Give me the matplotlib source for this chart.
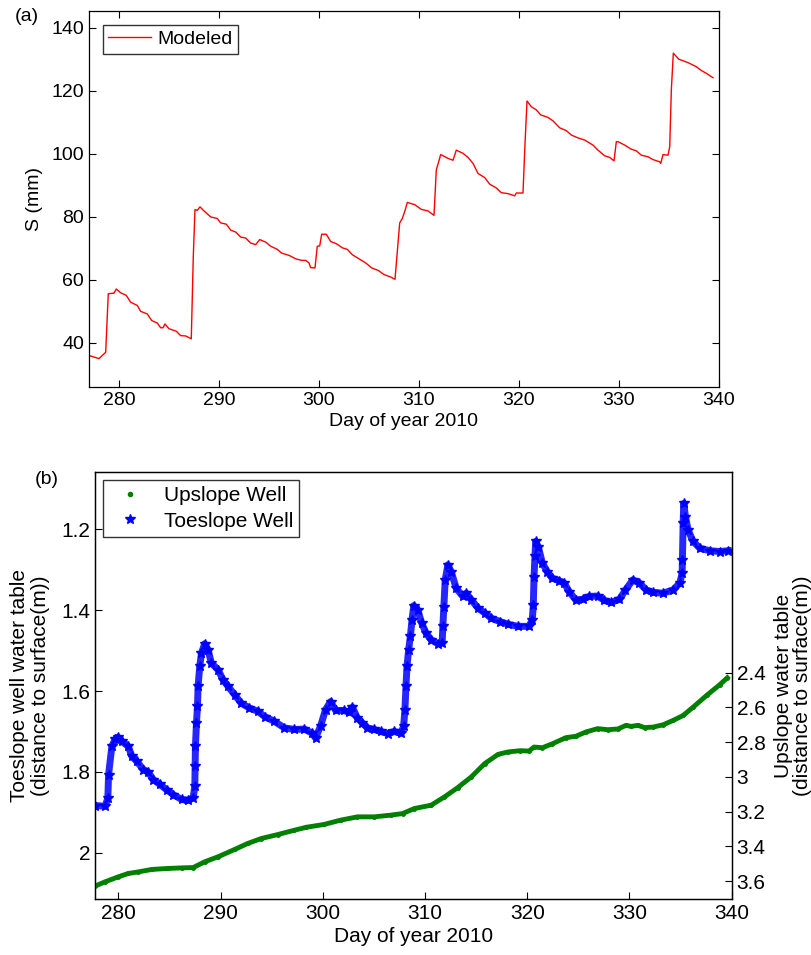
import numpy as np
import matplotlib
matplotlib.use('Agg')
import matplotlib.pyplot as plt
from matplotlib.lines import Line2D

plt.rcParams['font.family'] = ['Liberation Sans', 'DejaVu Sans']

# (a) modeled storage S (mm)
day_s = [277.0, 278.0, 278.67, 278.93, 279.5, 279.73, 280.17, 280.73, 281.17, 281.83,
         282.17, 282.83, 283.27, 283.83, 284.17, 284.4, 284.6, 285.0, 285.73, 286.17,
         286.67, 287.23, 287.43, 287.6, 287.83, 288.1, 288.5, 289.17, 289.83, 290.17,
         290.73, 291.17, 291.67, 292.17, 292.67, 293.17, 293.67, 294.07, 294.67, 295.17,
         295.83, 296.27, 297.0, 297.67, 298.27, 298.67, 299.0, 299.17, 299.6, 299.83,
         300.07, 300.27, 300.73, 301.17, 301.73, 302.33, 302.83, 303.33, 304.0, 304.67,
         305.27, 305.93, 306.5, 307.17, 307.6, 308.07, 308.33, 308.6, 308.83, 309.57,
         310.23, 310.9, 311.5, 311.73, 312.17, 312.9, 313.4, 313.73, 314.4, 314.9,
         315.4, 315.9, 316.57, 317.07, 317.73, 318.23, 318.9, 319.57, 319.73, 320.4,
         320.57, 320.8, 321.23, 321.73, 322.17, 322.9, 323.4, 324.07, 324.73, 325.23,
         325.9, 326.57, 327.4, 327.9, 328.57, 329.07, 329.5, 329.73, 329.9, 330.57,
         331.23, 331.73, 332.23, 332.9, 333.4, 334.07, 334.17, 334.4, 334.9, 335.07,
         335.23, 335.43, 335.97, 336.9, 337.73, 338.23, 338.73, 339.4]
s_mod = [36.0, 35.0, 37.0, 55.6, 55.8, 57.1, 55.9, 55.1, 52.9, 51.9,
         50.0, 49.2, 47.1, 46.3, 44.8, 44.8, 46.0, 44.5, 43.7, 42.3,
         42.2, 41.3, 67.3, 82.3, 82.1, 83.2, 81.9, 80.0, 79.5, 78.1,
         77.7, 75.8, 75.2, 73.6, 73.3, 71.7, 71.2, 72.8, 72.0, 70.7,
         69.7, 68.5, 67.8, 66.7, 66.2, 66.2, 65.4, 63.9, 63.8, 70.7,
         70.8, 74.5, 74.5, 72.2, 71.5, 70.2, 69.7, 68.0, 66.7, 65.4,
         63.8, 63.0, 61.7, 60.9, 60.2, 78.1, 79.5, 82.0, 84.6, 83.9,
         82.4, 81.9, 80.5, 94.9, 99.8, 98.6, 98.0, 101.2, 100.2, 98.9,
         97.0, 93.8, 92.5, 90.4, 89.2, 87.7, 87.4, 86.7, 87.6, 87.6,
         101.2, 116.8, 115.0, 114.0, 112.4, 111.6, 110.5, 108.3, 107.4, 106.0,
         105.1, 104.4, 102.8, 101.2, 99.4, 98.9, 97.8, 103.9, 103.9, 102.8,
         101.5, 101.0, 99.6, 99.1, 98.2, 97.5, 97.0, 99.8, 99.6, 102.3,
         120.3, 132.0, 130.1, 129.0, 127.7, 126.5, 125.6, 124.2]

# (b) toeslope well, distance to surface (m)
day_toe = [277.73, 278.7, 278.96, 279.03, 279.35, 279.68, 279.94, 280.32, 280.97, 281.3,
           281.79, 282.44, 282.92, 283.41, 284.06, 284.71, 285.36, 286.17, 286.82, 287.31,
           287.47, 287.5, 287.53, 287.63, 287.73, 287.79, 287.95, 288.12, 288.44, 288.77,
           289.09, 289.74, 290.23, 290.71, 291.36, 292.01, 292.82, 293.64, 294.29, 295.26,
           296.23, 297.21, 298.18, 298.95, 299.28, 299.77, 300.26, 300.75, 301.25, 302.07,
           302.56, 302.89, 303.38, 303.87, 304.36, 305.02, 305.67, 306.33, 306.98, 307.64,
           307.9, 308.03, 308.13, 308.23, 308.39, 308.56, 308.72, 308.89, 309.28, 309.67,
           310.1, 310.59, 311.25, 311.67, 311.74, 311.84, 311.97, 312.23, 312.56, 313.05,
           313.7, 314.03, 314.52, 315.18, 315.84, 316.49, 317.31, 318.13, 319.11, 320.16,
           320.49, 320.59, 320.66, 320.75, 320.82, 321.08, 321.48, 321.97, 322.46, 323.11,
           323.61, 324.1, 324.75, 325.41, 326.07, 326.89, 327.54, 328.2, 329.02, 329.61,
           330.33, 330.98, 331.64, 332.3, 333.28, 334.26, 334.92, 335.15, 335.18, 335.25,
           335.31, 335.48, 335.74, 336.23, 336.89, 337.87, 338.85, 339.67]
toe = [1.883, 1.885, 1.864, 1.807, 1.737, 1.719, 1.714, 1.724, 1.737, 1.761,
       1.774, 1.794, 1.801, 1.819, 1.831, 1.844, 1.856, 1.868, 1.870, 1.864,
       1.835, 1.786, 1.737, 1.679, 1.638, 1.588, 1.539, 1.506, 1.483, 1.498,
       1.531, 1.547, 1.572, 1.588, 1.609, 1.630, 1.642, 1.650, 1.663, 1.675,
       1.691, 1.695, 1.694, 1.704, 1.716, 1.687, 1.646, 1.626, 1.648, 1.648,
       1.653, 1.640, 1.667, 1.679, 1.691, 1.695, 1.700, 1.705, 1.700, 1.704,
       1.687, 1.646, 1.588, 1.539, 1.498, 1.465, 1.424, 1.389, 1.399, 1.432,
       1.457, 1.473, 1.483, 1.481, 1.440, 1.391, 1.325, 1.288, 1.305, 1.346,
       1.366, 1.358, 1.374, 1.395, 1.407, 1.420, 1.428, 1.435, 1.440, 1.440,
       1.424, 1.387, 1.317, 1.267, 1.230, 1.243, 1.284, 1.305, 1.321, 1.327,
       1.333, 1.354, 1.375, 1.373, 1.366, 1.365, 1.376, 1.381, 1.373, 1.350,
       1.325, 1.333, 1.350, 1.356, 1.358, 1.350, 1.333, 1.309, 1.276, 1.185,
       1.136, 1.169, 1.202, 1.230, 1.247, 1.253, 1.255, 1.253]

# (b) upslope well, distance to surface (m)
day_up = [277.73, 278.7, 280.0, 280.97, 281.95, 283.25, 284.87, 286.17, 287.31, 288.44,
          289.74, 291.36, 292.66, 293.96, 295.58, 297.21, 298.38, 300.1, 301.74, 303.38,
          305.02, 306.66, 307.8, 308.95, 310.59, 311.9, 313.21, 314.52, 315.84, 317.15,
          318.13, 319.31, 320.16, 320.66, 321.48, 322.46, 323.77, 324.75, 325.74, 326.89,
          327.87, 328.85, 329.67, 330.16, 330.82, 331.48, 332.3, 333.28, 334.26, 335.25,
          336.23, 337.54, 338.85, 339.57]
up = [3.628, 3.604, 3.575, 3.556, 3.547, 3.533, 3.527, 3.524, 3.522, 3.489,
      3.460, 3.418, 3.383, 3.355, 3.332, 3.307, 3.290, 3.274, 3.249, 3.230,
      3.230, 3.220, 3.211, 3.182, 3.163, 3.115, 3.061, 3.000, 2.923, 2.870,
      2.856, 2.849, 2.851, 2.828, 2.832, 2.809, 2.774, 2.766, 2.741, 2.722,
      2.728, 2.724, 2.703, 2.709, 2.703, 2.716, 2.713, 2.700, 2.675, 2.646,
      2.598, 2.531, 2.468, 2.429]

xticks = [280, 290, 300, 310, 320, 330, 340]

fig = plt.figure(figsize=(8.11, 9.55), dpi=100)

# ---- panel (a)
ax = fig.add_axes([0.1097, 0.5948, 0.7769, 0.3937])
ax.plot(day_s, s_mod, color='red', lw=1.0, label='Modeled')
ax.set_xlim(277, 340)
ax.set_ylim(26, 145.4)
ax.set_xticks(xticks)
ax.set_yticks([40, 60, 80, 100, 120, 140])
ax.tick_params(direction='in', length=5, labelsize=14, top=True, right=True, width=0.8)
ax.set_xlabel('Day of year 2010', fontsize=14, labelpad=3)
ax.set_ylabel('S (mm)', fontsize=14, labelpad=6)
for sp in ax.spines.values():
    sp.set_linewidth(0.9)
leg = ax.legend(loc='upper left', fontsize=14, fancybox=False, edgecolor='black',
                borderaxespad=0.7, handlelength=2.2, borderpad=0.3, handletextpad=0.3)
leg.get_frame().set_linewidth(1.0)
fig.text(0.018, 0.978, '(a)', fontsize=14)

# ---- panel (b)
axb = fig.add_axes([0.1171, 0.0583, 0.7851, 0.4478])
axb.plot(day_toe, toe, color='blue', lw=5, alpha=0.85, zorder=2)
axb.plot(day_toe, toe, ls='none', marker='*', ms=7, color='blue', zorder=3)
axb.set_xlim(277.7, 340)
axb.set_ylim(2.115, 1.0575)
axb.set_xticks(xticks)
axb.set_yticks([1.2, 1.4, 1.6, 1.8, 2.0])
axb.set_yticklabels(['1.2', '1.4', '1.6', '1.8', '2'])
axb.tick_params(direction='in', length=5, labelsize=15, width=0.8)
axb.set_xlabel('Day of year 2010', fontsize=15, labelpad=3)
axb.set_ylabel('Toeslope well water table\n(distance to surface(m))', fontsize=15,
               labelpad=8, linespacing=1.1)
fig.text(0.043, 0.493, '(b)', fontsize=14)

ax2 = axb.twinx()
ax2.plot(day_up, up, color='green', lw=3.5, marker='.', ms=5)
ax2.set_ylim(3.705, 1.242)
ax2.set_yticks([2.4, 2.6, 2.8, 3.0, 3.2, 3.4, 3.6])
ax2.set_yticklabels(['2.4', '2.6', '2.8', '3', '3.2', '3.4', '3.6'])
ax2.tick_params(direction='in', length=5, labelsize=15, width=0.8)
ax2.set_ylabel('Upslope water table\n(distance to surface(m))', fontsize=15,
               labelpad=6, linespacing=1.0)
for a in (axb, ax2):
    for sp in a.spines.values():
        sp.set_linewidth(0.9)

handles = [Line2D([], [], ls='none', marker='.', ms=6, color='green'),
           Line2D([], [], ls='none', marker='*', ms=7, color='blue')]
legb = ax2.legend(handles, ['Upslope Well', 'Toeslope Well'], loc='upper left',
                  fontsize=15, fancybox=False, edgecolor='black', borderaxespad=0.4,
                  borderpad=0.3, handletextpad=0.6, labelspacing=0.3)
legb.get_frame().set_linewidth(1.0)

fig.savefig('out.png', dpi=100)
